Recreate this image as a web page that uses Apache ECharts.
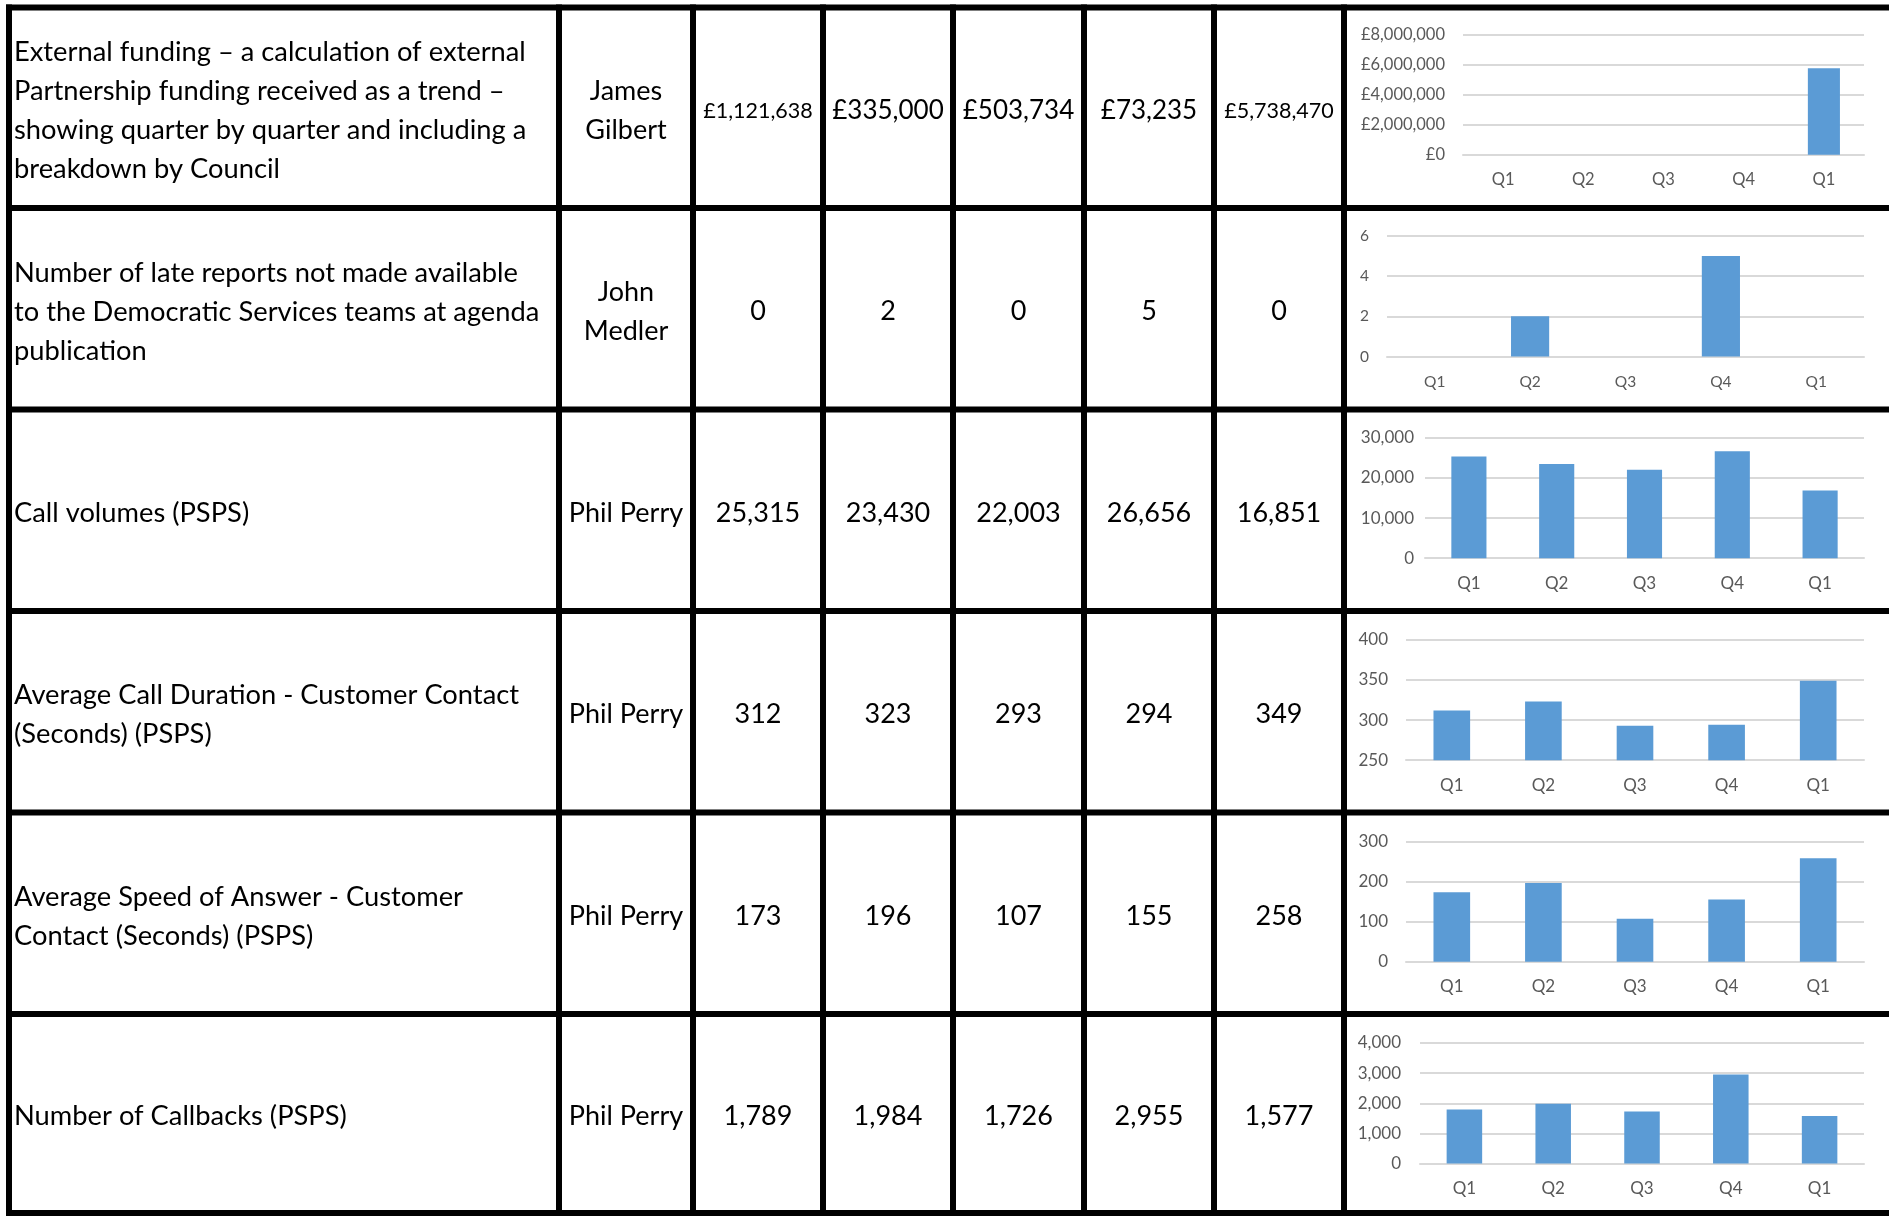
<!DOCTYPE html>
<html>
<head>
<meta charset="utf-8">
<title>Performance indicators</title>
<script src="https://cdn.jsdelivr.net/npm/echarts@6/dist/echarts.min.js"></script>
<style>
    html, body { margin: 0; padding: 0; background: #fff; }
    #main { width: 1889px; height: 1216px; }
</style>
</head>
<body>
<div id="main"></div>
<script>
// ---- data ----
var quarters = ['Q1', 'Q2', 'Q3', 'Q4', 'Q1'];

var measureNames = [
    'External funding \u2013 a calculation of external\nPartnership funding received as a trend \u2013\nshowing quarter by quarter and including a\nbreakdown by Council',
    'Number of late reports not made available\nto the Democratic Services teams at agenda\npublication',
    'Call volumes (PSPS)',
    'Average Call Duration - Customer Contact\n(Seconds) (PSPS)',
    'Average Speed of Answer - Customer\nContact (Seconds) (PSPS)',
    'Number of Callbacks (PSPS)'
];
var owners = ['James\nGilbert', 'John\nMedler', 'Phil Perry', 'Phil Perry', 'Phil Perry', 'Phil Perry'];

var externalFunding = [1121638, 335000, 503734, 73235, 5738470];
var lateReports = [0, 2, 0, 5, 0];
var callVolumes = [25315, 23430, 22003, 26656, 16851];
var callDuration = [312, 323, 293, 294, 349];
var speedOfAnswer = [173, 196, 107, 155, 258];
var callbacks = [1789, 1984, 1726, 2955, 1577];

// the funding chart only plots the latest quarter
var fundingChart = [null, null, null, null, 5738470];

var tableRows = [externalFunding, lateReports, callVolumes, callDuration, speedOfAnswer, callbacks];
var chartRows = [fundingChart, lateReports, callVolumes, callDuration, speedOfAnswer, callbacks];

// y axis scales for the small charts
var axisMin = [0, 0, 0, 250, 0, 0];
var axisMax = [8000000, 6, 30000, 400, 300, 4000];
var axisStep = [2000000, 2, 10000, 50, 100, 1000];

// ---- layout ----
var rowLines = [7.5, 208, 409.5, 611, 812.5, 1014, 1213];
var colLines = [9, 559, 693, 823, 953, 1084, 1214, 1344];
var lineW = 6;
var W = 1889, H = 1216;
var textDy = 3;
var FONT = 'Lato, "Open Sans", sans-serif';
var BLUE = '#5B9BD5';
var GRID_GREY = '#d9d9d9';
var LABEL_GREY = '#595959';

var chartBoxes = [
    {left: 1463, top: 34.3,  font: 16.5, yMargin: 18},
    {left: 1387, top: 236,   font: 15.5, yMargin: 18},
    {left: 1425, top: 437.7, font: 17,   yMargin: 11},
    {left: 1406, top: 639.7, font: 17,   yMargin: 18},
    {left: 1406, top: 841.3, font: 17,   yMargin: 18},
    {left: 1420, top: 1043,  font: 17,   yMargin: 19}
];
var plotHeight = 120.5;

function fmt(n){
    return n.toLocaleString('en-GB');
}
function money(n){
    return '\u00a3' + fmt(n);
}

function buildTable(){
    var els = [];

    rowLines.forEach(function(y){
        els.push({type: 'rect', shape: {x: 6, y: y - lineW / 2, width: W - 6, height: lineW}, style: {fill: '#000'}});
    });
    colLines.forEach(function(x){
        els.push({type: 'rect', shape: {x: x - lineW / 2, y: 4.5, width: lineW, height: H - 4.5}, style: {fill: '#000'}});
    });

    tableRows.forEach(function(values, r){
        var cy = (rowLines[r] + rowLines[r + 1]) / 2 + textDy;

        /** measure name */
        els.push({
            type: 'text', x: 14, y: cy,
            style: {text: measureNames[r], fill: '#000', font: '27.3px ' + FONT, align: 'left', verticalAlign: 'middle', lineHeight: 39}
        });
        /** owner */
        els.push({
            type: 'text', x: (colLines[1] + colLines[2]) / 2, y: cy,
            style: {text: owners[r], fill: '#000', font: '27px ' + FONT, align: 'center', verticalAlign: 'middle', lineHeight: 39}
        });
        /** quarterly values */
        values.forEach(function(v, c){
            var text = r === 0 ? money(v) : fmt(v);
            var size = r === 0 ? ((c === 0 || c === 4) ? 21.5 : 26) : 27;
            els.push({
                type: 'text', x: (colLines[c + 2] + colLines[c + 3]) / 2, y: cy,
                style: {text: text, fill: '#000', font: size + 'px ' + FONT, align: 'center', verticalAlign: 'middle'}
            });
        });
    });
    return els;
}

var grids = [], xAxes = [], yAxes = [], series = [];

chartBoxes.forEach(function(box, i){
    grids.push({left: box.left, right: W - 1864, top: box.top, height: plotHeight, containLabel: false});

    xAxes.push({
        gridIndex: i,
        type: 'category',
        data: quarters,
        axisLine: {lineStyle: {color: GRID_GREY, width: 2}},
        axisTick: {show: false},
        axisLabel: {color: LABEL_GREY, fontSize: box.font, fontFamily: FONT, margin: 25 - box.font / 2}
    });

    yAxes.push({
        gridIndex: i,
        type: 'value',
        min: axisMin[i],
        max: axisMax[i],
        interval: axisStep[i],
        startValue: axisMin[i],
        axisLine: {show: false},
        axisTick: {show: false},
        splitLine: {lineStyle: {color: GRID_GREY, width: 2}},
        axisLabel: {
            color: LABEL_GREY, fontSize: box.font, fontFamily: FONT, margin: box.yMargin,
            formatter: i === 0 ? money : fmt
        }
    });

    series.push({
        type: 'bar',
        xAxisIndex: i,
        yAxisIndex: i,
        data: chartRows[i],
        barCategoryGap: '60%',
        clip: true,
        silent: true,
        itemStyle: {color: BLUE}
    });
});

var chart = echarts.init(document.getElementById('main'));
chart.setOption({
    backgroundColor: '#fff',
    animation: false,
    grid: grids,
    xAxis: xAxes,
    yAxis: yAxes,
    series: series,
    graphic: buildTable()
});
</script>
</body>
</html>
